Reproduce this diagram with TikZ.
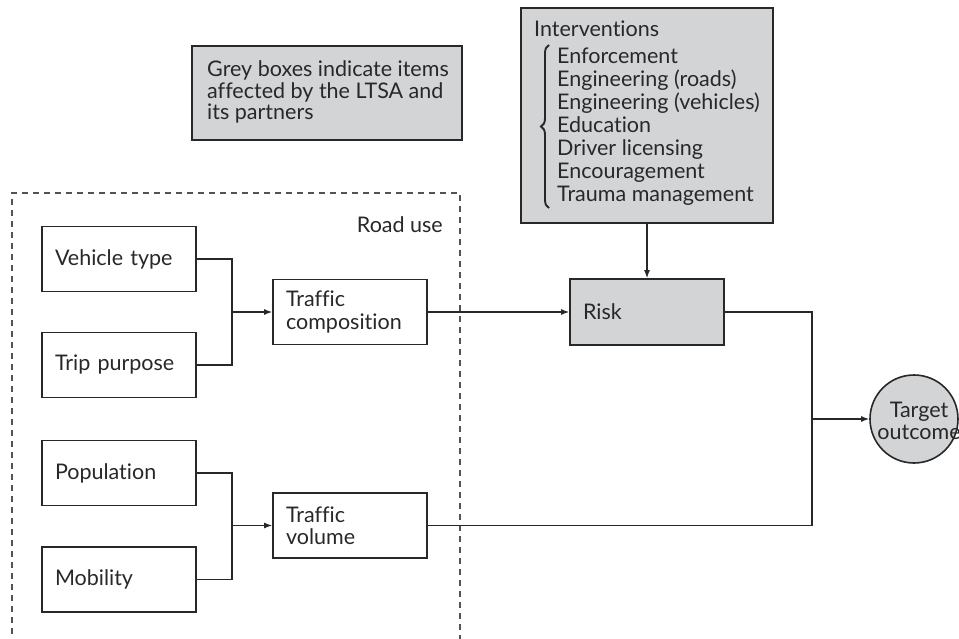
\documentclass[tikz,border=0pt]{standalone}
\usepackage{fontspec}
\setmainfont[Ligatures=NoCommon]{Lato}
\usetikzlibrary{arrows.meta,decorations.pathreplacing}
\definecolor{boxgrey}{RGB}{211,212,214}
\definecolor{ink}{RGB}{40,40,40}
\begin{document}
\begin{tikzpicture}[x=1pt,y=-1pt,
  every node/.style={text=ink, font=\fontsize{21.5}{22.5}\selectfont},
  box/.style={draw=ink, line width=1.6pt, minimum width=154pt, minimum height=65pt,
    text width=128pt, inner xsep=13pt, inner ysep=0pt, align=left},
  greybox/.style={box, fill=boxgrey},
  link/.style={draw=ink, line width=1.4pt},
  arr/.style={link, -{Latex[length=8pt,width=6pt]}},
  plain/.style={inner sep=0pt, align=left}
]
\useasboundingbox (0,0) rectangle (959,639);

% road use area
\draw[draw=ink!80, line width=1.1pt, dash pattern=on 6pt off 5pt]
  (12,645) -- (12,193) -- (460,193) -- (460,645);
\node[plain, anchor=base east] (roaduse) at (443,233) {Road use};

% legend
\node[draw=ink, line width=1.6pt, fill=boxgrey, minimum width=270pt, minimum height=94pt] (legend) at (327,93) {};
\node[plain, anchor=west, font=\fontsize{21.5}{21.5}\selectfont] (legendtext) at (207,92) {Grey boxes indicate items\\affected by the LTSA and\\its partners};

% left boxes
\node[box] (vtype) at (119,259) {Vehicle type};
\node[box] (trip) at (119,365) {Trip purpose};
\node[box] (pop) at (119,473) {Population};
\node[box] (mob) at (119,579.5) {Mobility};

\node[box] (comp) at (350,312) {Traffic\\composition};
\node[box] (vol) at (350,525.5) {Traffic\\volume};

% risk
\node[greybox, minimum height=66pt] (risk) at (647,312) {Risk};

% interventions
\node[draw=ink, line width=1.6pt, fill=boxgrey, minimum width=252pt, minimum height=215pt] (interv) at (647,115.5) {};
\node[plain, anchor=base west] (intervtitle) at (534,37) {Interventions};
\node[plain, anchor=base west] (i1) at (557,64) {Enforcement};
\node[plain, anchor=base west] (i2) at (557,87) {Engineering (roads)};
\node[plain, anchor=base west] (i3) at (557,110) {Engineering (vehicles)};
\node[plain, anchor=base west] (i4) at (557,133) {Education};
\node[plain, anchor=base west] (i5) at (557,156) {Driver licensing};
\node[plain, anchor=base west] (i6) at (557,179) {Encouragement};
\node[plain, anchor=base west] (i7) at (557,202) {Trauma management};
\draw[draw=ink, line width=1.9pt, decorate, decoration={brace, amplitude=8pt}]
  (549,208) -- (549,45);

% target
\node[circle, draw=ink, line width=1.6pt, fill=boxgrey, minimum size=88pt, inner sep=0pt] (target) at (914,419) {};
\node[plain, align=center] (targettext) at (919,421) {Target\\outcome};

% junctions
\coordinate (j1) at (232,312);
\coordinate (j2) at (232,525.5);
\coordinate (j3) at (812,419);

% connectors
\draw[link] (vtype.east) -| (j1) |- (trip.east);
\draw[arr] (j1) -- (comp.west);
\draw[link] (pop.east) -| (j2) |- (mob.east);
\draw[arr] (j2) -- (vol.west);
\draw[arr] (comp.east) -- (risk.west);
\draw[arr] (interv.south) -- (risk.north);
\draw[link] (risk.east) -| (j3);
\draw[link] (vol.east) -| (j3);
\draw[arr] (j3) -- (target.west);
\end{tikzpicture}
\end{document}
